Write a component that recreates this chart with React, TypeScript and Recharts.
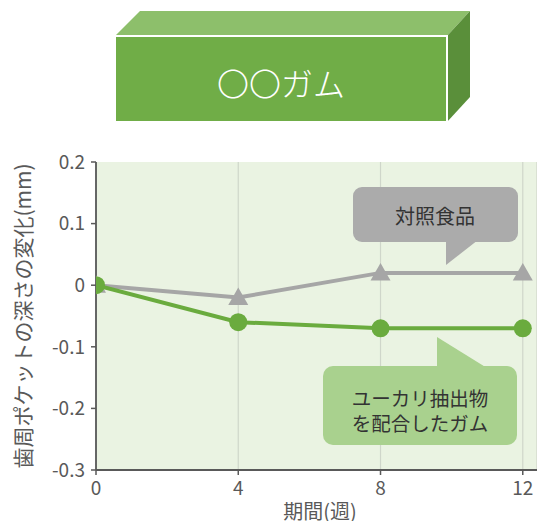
import React from 'react';
import { LineChart, Line, XAxis, YAxis, CartesianGrid, Label } from 'recharts';

// Weeks of the study and the change in periodontal pocket depth (mm)
const weeks = [0, 4, 8, 12];
const controlFood = [0, -0.02, 0.02, 0.02];
const eucalyptusGum = [0, -0.06, -0.07, -0.07];

const xTicks = [0, 4, 8, 12];
const yTicks = [-0.3, -0.2, -0.1, 0, 0.1, 0.2];

const titleText = '〇〇ガム';
const yAxisTitle = '歯周ポケットの深さの変化(mm)';
const xAxisTitle = '期間(週)';
const controlLabel = '対照食品';
const gumLabelLines = ['ユーカリ抽出物', 'を配合したガム'];

const data = weeks.map((w, i) => ({
  week: w,
  control: controlFood[i],
  gum: eucalyptusGum[i],
}));

const FONT = '"Noto Sans CJK JP", "Noto Sans", sans-serif';
const AXIS = '#595959';
const GREEN = '#6aab3e';
const GREY = '#a6a6a6';

const W = 537;
const H = 521;

const Triangle = (props: any) => {
  const { cx, cy, index } = props;
  if (cx == null || cy == null) return <g key={`t-${index}`} />;
  return (
    <path
      key={`t-${index}`}
      d={`M${cx},${cy - 10} L${cx + 10},${cy + 7.5} L${cx - 10},${cy + 7.5} Z`}
      fill={GREY}
    />
  );
};

const YTitle = (props: any) => {
  const vb = props.viewBox || {};
  const cy = (vb.y ?? 162) + (vb.height ?? 308) / 2;
  return (
    <text
      x={22}
      y={cy}
      transform={`rotate(-90, 22, ${cy})`}
      textAnchor="middle"
      dominantBaseline="central"
      fontFamily={FONT}
      fontSize={21}
      fill={AXIS}
    >
      {yAxisTitle}
    </text>
  );
};

const XTitle = () => (
  <text
    x={320}
    y={510}
    textAnchor="middle"
    dominantBaseline="central"
    fontFamily={FONT}
    fontSize={20}
    fill={AXIS}
  >
    {xAxisTitle}
  </text>
);

const Header = () => (
  <g>
    {/* top face */}
    <polygon points="115,36 140,11 470,11 447,36" fill="#8dbf6b" />
    {/* side face */}
    <polygon points="447,36 470,11 470,97 447,122" fill="#5a8f3a" />
    {/* front face */}
    <rect x={115} y={36} width={332} height={86} fill="#70ad47" stroke="#ffffff" strokeWidth={2} />
    <text
      x={281}
      y={82}
      textAnchor="middle"
      dominantBaseline="central"
      fontFamily={FONT}
      fontSize={32}
      fontWeight={300}
      fill="#ffffff"
    >
      {titleText}
    </text>
  </g>
);

const Callouts = () => (
  <g fontFamily={FONT} fill="#333333">
    {/* control food callout */}
    <rect x={353} y={187} width={165} height={55} rx={9} fill="#ababab" />
    <polygon points="446,240 446,265 478,240" fill="#ababab" />
    <text x={435} y={215} textAnchor="middle" dominantBaseline="central" fontSize={20} fill="#333333">
      {controlLabel}
    </text>
    {/* eucalyptus gum callout */}
    <rect x={323} y={366} width={194} height={79} rx={10} fill="#a9d18e" />
    <polygon points="437,368 437,337 487,368" fill="#a9d18e" />
    {gumLabelLines.map((line, i) => (
      <text
        key={line}
        x={420}
        y={397 + i * 25}
        textAnchor="middle"
        dominantBaseline="central"
        fontSize={19.5}
        fill="#333333"
      >
        {line}
      </text>
    ))}
  </g>
);

export default function App() {
  return (
    <div style={{ position: 'absolute', left: 0, top: 0, width: W, height: H, background: '#ffffff', overflow: 'hidden' }}>
      <LineChart
        width={W}
        height={H}
        data={data}
        margin={{ top: 162, right: 0, bottom: 0, left: 0 }}
        style={{ position: 'absolute', left: 0, top: 0 }}
      >
        <CartesianGrid
          horizontal={false}
          vertical
          fill="#eaf3e2"
          fillOpacity={1}
          stroke="#cfd6ca"
          strokeWidth={1.2}
        />
        <XAxis
          dataKey="week"
          type="number"
          domain={[0, 12.4]}
          ticks={xTicks}
          allowDataOverflow
          height={51}
          axisLine={{ stroke: AXIS, strokeWidth: 1.8 }}
          tickLine={{ stroke: AXIS, strokeWidth: 1.5 }}
          tickSize={5}
          tickMargin={7}
          tick={{ fill: AXIS, fontSize: 19, fontFamily: FONT }}
        >
          <Label content={<XTitle />} />
        </XAxis>
        <YAxis
          type="number"
          domain={[-0.3, 0.2]}
          ticks={yTicks}
          width={96}
          allowDataOverflow
          interval={0}
          axisLine={{ stroke: AXIS, strokeWidth: 1.8 }}
          tickLine={{ stroke: AXIS, strokeWidth: 1.5 }}
          tickSize={5}
          tickMargin={6}
          tick={{ fill: AXIS, fontSize: 19, fontFamily: FONT }}
          tickFormatter={(v: number) => (v === 0 ? '0' : v.toFixed(1))}
        >
          <Label content={<YTitle />} />
        </YAxis>
        <Line
          dataKey="control"
          stroke={GREY}
          strokeWidth={4}
          dot={Triangle}
          activeDot={false}
          isAnimationActive={false}
        />
        <Line
          dataKey="gum"
          stroke={GREEN}
          strokeWidth={4}
          dot={{ r: 9, fill: GREEN, stroke: GREEN, strokeWidth: 0 }}
          activeDot={false}
          isAnimationActive={false}
        />
      </LineChart>
      <svg width={W} height={H} style={{ position: 'absolute', left: 0, top: 0, pointerEvents: 'none' }}>
        <Header />
        <Callouts />
      </svg>
    </div>
  );
}
